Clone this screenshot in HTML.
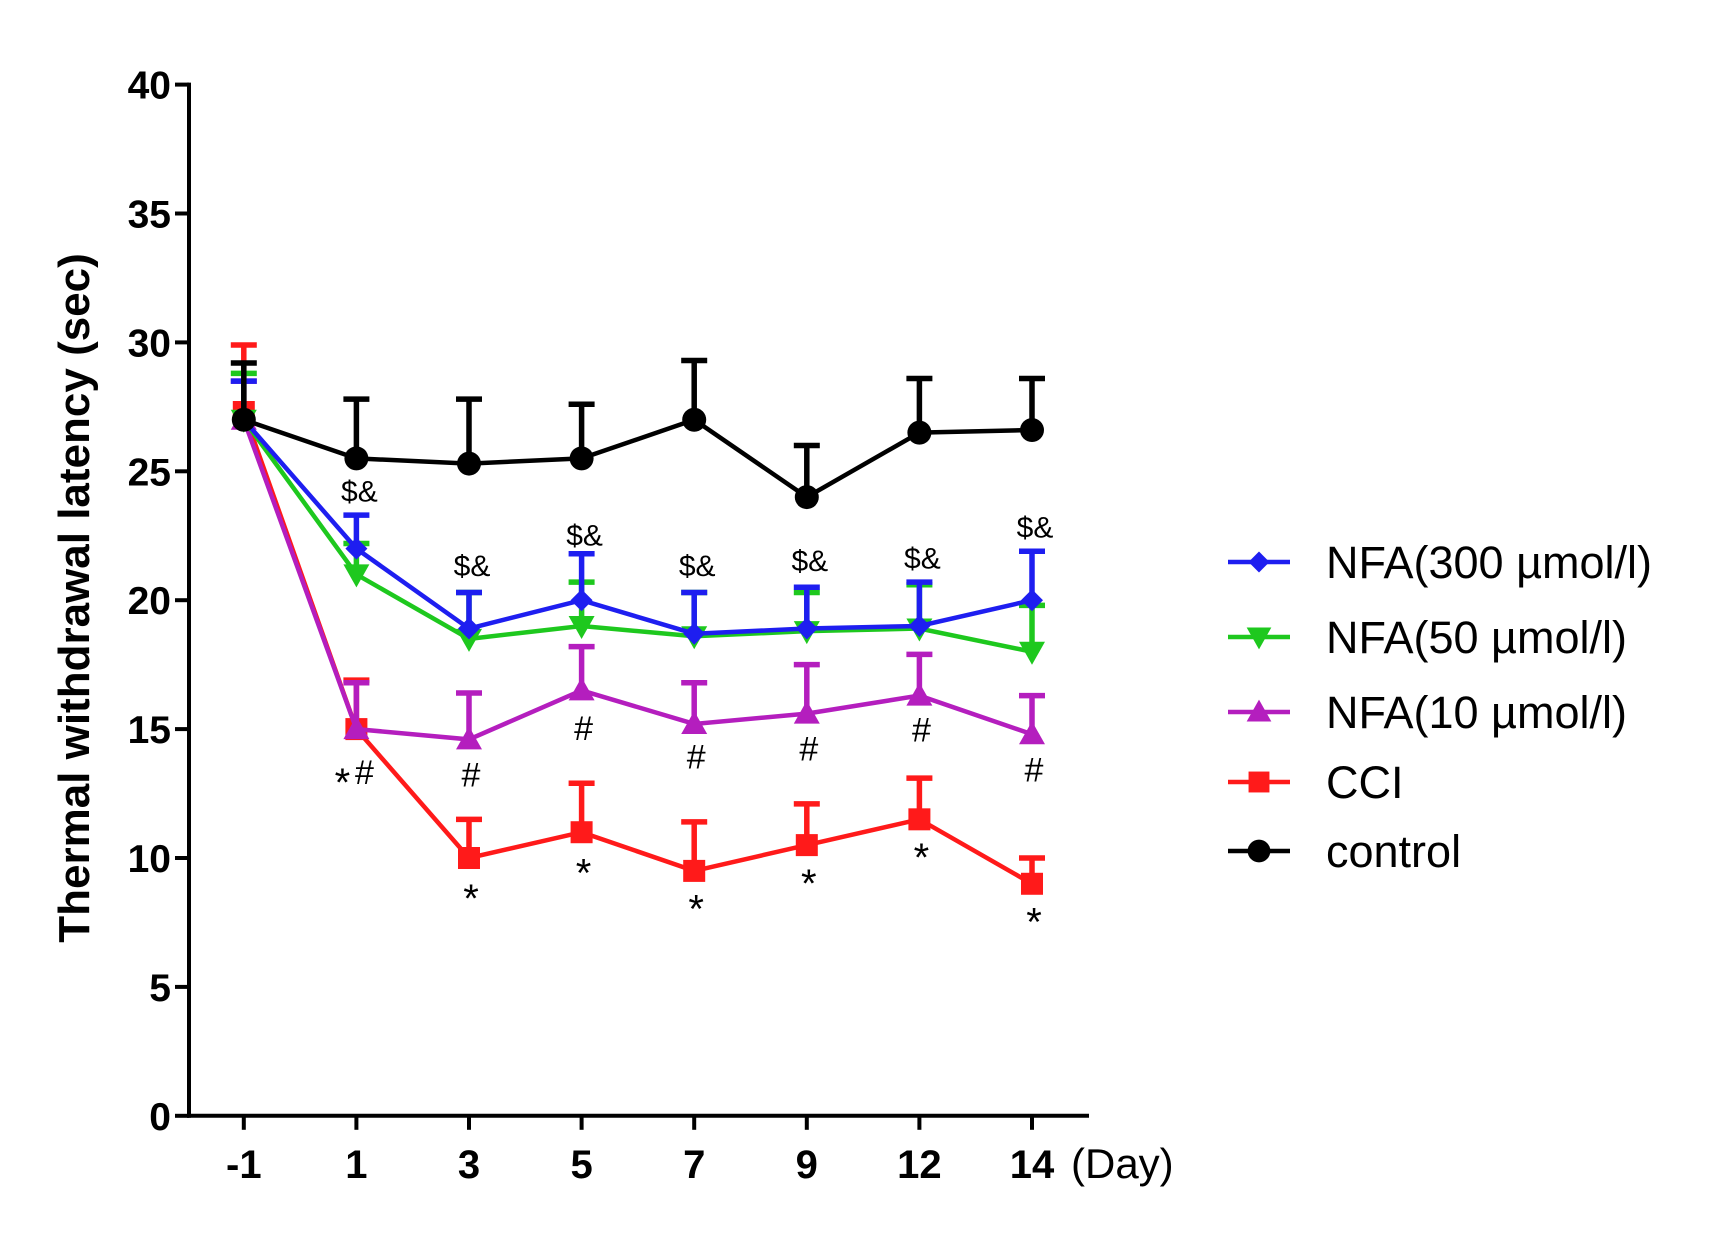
<!DOCTYPE html>
<html><head><meta charset="utf-8"><style>
html,body{margin:0;padding:0;background:#fff;}
svg{display:block;font-family:"Liberation Sans",Arial,sans-serif;}
</style></head><body>
<svg id="chart" width="1722" height="1243" viewBox="0 0 1722 1243" xmlns="http://www.w3.org/2000/svg">
<g id="axes"></g>
<g id="series"></g>
<g id="annots"></g>
<g id="legend"></g>
</svg>
<script>
const categories = ["-1","1","3","5","7","9","12","14"];
const yTicks = [0,5,10,15,20,25,30,35,40];
const seriesNames = ["CCI","NFA(10 µmol/l)","NFA(50 µmol/l)","NFA(300 µmol/l)","control"];
const cciVals  = [27.3,15,10,11,9.5,10.5,11.5,9];
const cciErr   = [29.9,16.9,11.5,12.9,11.4,12.1,13.1,10.0];
const n10Vals  = [27,15,14.6,16.5,15.2,15.6,16.3,14.8];
const n10Err   = [28.5,16.8,16.4,18.2,16.8,17.5,17.9,16.3];
const n50Vals  = [27,21,18.5,19,18.6,18.8,18.9,18];
const n50Err   = [28.8,22.2,20.3,20.7,20.3,20.3,20.6,19.8];
const n300Vals = [27,22,18.9,20,18.7,18.9,19,20];
const n300Err  = [28.5,23.3,20.3,21.8,20.3,20.5,20.7,21.9];
const ctrlVals = [27,25.5,25.3,25.5,27,24,26.5,26.6];
const ctrlErr  = [29.2,27.8,27.8,27.6,29.3,26,28.6,28.6];
const dollarPos = [null,24.2,21.3,22.5,21.3,21.5,21.6,22.8];
const hashPos   = [null,13.3,13.2,15.0,13.9,14.2,14.95,13.4];
const starPos   = [null,13.2,8.7,9.7,8.3,9.3,10.3,7.8];

const NS="http://www.w3.org/2000/svg";
const X0=189, XEND=1089, Y0=1115.8, Y40=84.6;
const catX=[243.8,356.9,470,582,694,807,920,1032];
function xs(i){return catX[0]+(catX[7]-catX[0])*i/7;}
function ys(v){return Y0-(Y0-Y40)*v/40;}
function mk(tag,attrs,parent){const e=document.createElementNS(NS,tag);for(const k in attrs)e.setAttribute(k,attrs[k]);parent.appendChild(e);return e;}
const axes=document.getElementById('axes');
let e=mk('line',{x1:X0,y1:Y40-2,x2:X0,y2:Y0+2,stroke:'#000','stroke-width':4},axes);


e=mk('line',{x1:X0-2,y1:Y0,x2:XEND,y2:Y0,stroke:'#000','stroke-width':4},axes);


yTicks.forEach(t=>{
  mk('line',{x1:X0-14,y1:ys(t),x2:X0,y2:ys(t),stroke:'#000','stroke-width':4},axes);
  const tx=mk('text',{x:X0-18,y:ys(t)+14,'text-anchor':'end','font-size':39,'font-weight':'bold'},axes);
  tx.textContent=t;
  
  
});
categories.forEach((c,i)=>{
  mk('line',{x1:xs(i),y1:Y0,x2:xs(i),y2:Y0+14,stroke:'#000','stroke-width':4},axes);
  const tx=mk('text',{x:xs(i),y:Y0+62,'text-anchor':'middle','font-size':40,'font-weight':'bold'},axes);
  tx.textContent=c;
  
  
});
e=mk('text',{x:1071,y:Y0+62,'font-size':42},axes);e.textContent="(Day)";


e=mk('text',{x:0,y:0,'text-anchor':'middle','font-size':44,'font-weight':'bold',transform:'translate(89,598) rotate(-90)'},axes);
e.textContent="Thermal withdrawal latency (sec)";



const colors=["#ff1a1a","#b41ebe","#1ec81e","#1e1ef0","#000"];
const shapes=["square","triUp","triDown","diamond","circle"];
const vals=[cciVals,n10Vals,n50Vals,n300Vals,ctrlVals];
const errs=[cciErr,n10Err,n50Err,n300Err,ctrlErr];
function marker(shape,x,y,c,p,s){
  s=s||1;
  if(shape==='square')return mk('rect',{x:x-11*s,y:y-11*s,width:22*s,height:22*s,fill:c},p);
  if(shape==='circle')return mk('circle',{cx:x,cy:y,r:12*s,fill:c},p);
  if(shape==='triUp')return mk('polygon',{points:`${x},${y-13*s} ${x+13*s},${y+10*s} ${x-13*s},${y+10*s}`,fill:c},p);
  if(shape==='triDown')return mk('polygon',{points:`${x},${y+13*s} ${x+13*s},${y-10*s} ${x-13*s},${y-10*s}`,fill:c},p);
  return mk('polygon',{points:`${x},${y-11*s} ${x+11*s},${y} ${x},${y+11*s} ${x-11*s},${y}`,fill:c},p);
}
const sg=document.getElementById('series');
vals.forEach((v,si)=>{
  const g=mk('g',{},sg);
  
  
  v.forEach((val,i)=>{
    const b=mk('path',{d:`M${xs(i)},${ys(val)}V${ys(errs[si][i])}M${xs(i)-13},${ys(errs[si][i])}H${xs(i)+13}`,stroke:colors[si],'stroke-width':5.5,fill:'none'},g);
    
    
  });
  const ln=mk('polyline',{points:v.map((val,i)=>xs(i)+','+ys(val)).join(' '),stroke:colors[si],'stroke-width':4.5,fill:'none'},g);
  
  
  v.forEach((val,i)=>{
    const m=marker(shapes[si],xs(i),ys(val),colors[si],g);
    
    
  });
});
const ag=document.getElementById('annots');
function ann(txt,x,v,size){
  const t=mk('text',{x:x,y:ys(v),'text-anchor':'middle','dominant-baseline':'central','font-size':size},ag);
  t.textContent=txt;
  
  
}
categories.forEach((c,i)=>{
  if(dollarPos[i]!=null)ann("$&",xs(i)+3,dollarPos[i],30);
  if(hashPos[i]!=null)ann("#",xs(i)+(i===1?8:2),hashPos[i],34);
  if(starPos[i]!=null)ann("*",xs(i)+(i===1?-14:2),starPos[i]-0.3,40);
});
const lg=document.getElementById('legend');
const legOrder=[3,2,1,0,4];
const legY=[562,637,712,782,851];
legOrder.forEach((si,k)=>{
  const g=mk('g',{},lg);
  
  
  mk('line',{x1:1228,y1:legY[k],x2:1290,y2:legY[k],stroke:colors[si],'stroke-width':4.5},g);
  marker(shapes[si],1259,legY[k],colors[si],g,0.95);
  const t=mk('text',{x:1326,y:legY[k]+16,'font-size':45},g);
  t.textContent=seriesNames[si];
});
</script>
</body></html>
